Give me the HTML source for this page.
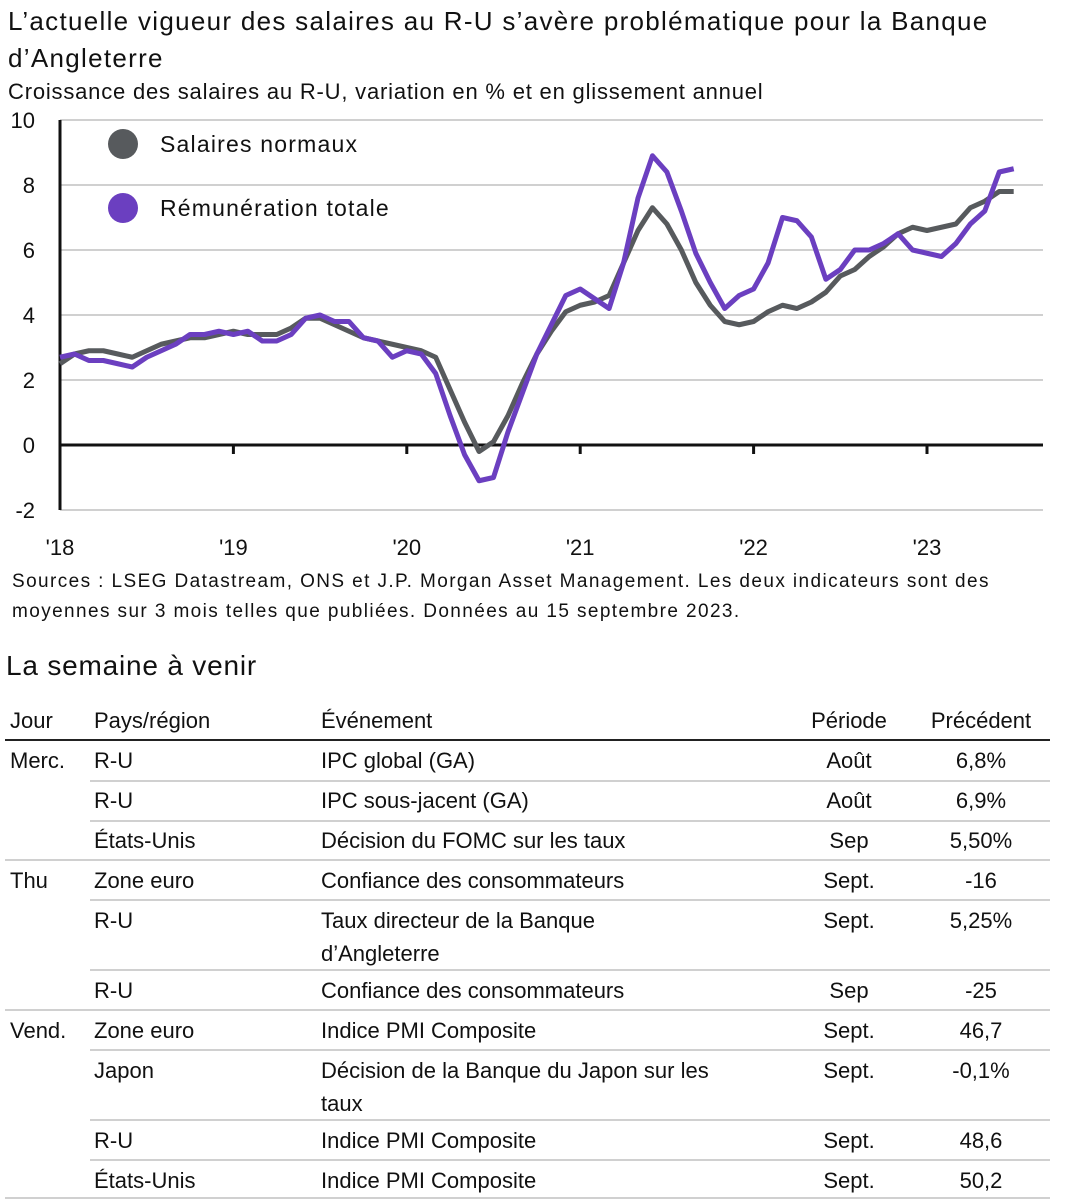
<!DOCTYPE html>
<html><head><meta charset="utf-8">
<style>
body{margin:0;width:1070px;height:1200px;background:#fff;font-family:"Liberation Sans",sans-serif;color:#111;position:relative;overflow:hidden}
.t{position:absolute;white-space:nowrap}
.c{position:absolute;white-space:nowrap;font-size:22px;line-height:33px}
.hl{position:absolute;height:2px;background:#d0d0d0}
</style></head><body>
<div class="t" style="left:8px;top:3px;font-size:26px;letter-spacing:1.3px;line-height:37px">L’actuelle vigueur des salaires au R-U s’avère problématique pour la Banque<br>d’Angleterre</div>
<div class="t" style="left:8px;top:79px;font-size:22px;letter-spacing:0.8px">Croissance des salaires au R-U, variation en % et en glissement annuel</div>
<svg id="chart" width="1070" height="570" style="position:absolute;left:0;top:0" font-family="Liberation Sans, sans-serif"></svg>
<div class="t" style="left:12px;top:567px;font-size:19px;letter-spacing:1.4px;line-height:30px">Sources : LSEG Datastream, ONS et J.P. Morgan Asset Management. Les deux indicateurs sont des<br>moyennes sur 3 mois telles que publiées. Données au 15 septembre 2023.</div>
<div class="t" style="left:6px;top:650px;font-size:28px;letter-spacing:0.8px">La semaine à venir</div>
<div id="tbl"></div>
<script>
const categoriesStart = 2018;
const yTicks = [10,8,6,4,2,0,-2];
const xTickLabels = ["'18","'19","'20","'21","'22","'23"];
const regularPay = [2.5,2.8,2.9,2.9,2.8,2.7,2.9,3.1,3.2,3.3,3.3,3.4,
3.5,3.4,3.4,3.4,3.6,3.9,3.9,3.7,3.5,3.3,3.2,3.1,
3.0,2.9,2.7,1.7,0.7,-0.2,0.1,0.9,1.9,2.8,3.5,4.1,
4.3,4.4,4.6,5.6,6.6,7.3,6.8,6.0,5.0,4.3,3.8,3.7,
3.8,4.1,4.3,4.2,4.4,4.7,5.2,5.4,5.8,6.1,6.5,6.7,
6.6,6.7,6.8,7.3,7.5,7.8,7.8];
const totalPay = [2.7,2.8,2.6,2.6,2.5,2.4,2.7,2.9,3.1,3.4,3.4,3.5,
3.4,3.5,3.2,3.2,3.4,3.9,4.0,3.8,3.8,3.3,3.2,2.7,
2.9,2.8,2.2,0.9,-0.3,-1.1,-1.0,0.4,1.6,2.8,3.7,4.6,
4.8,4.5,4.2,5.6,7.6,8.9,8.4,7.2,5.9,5.0,4.2,4.6,
4.8,5.6,7.0,6.9,6.4,5.1,5.4,6.0,6.0,6.2,6.5,6.0,
5.9,5.8,6.2,6.8,7.2,8.4,8.5];
const NS="http://www.w3.org/2000/svg";
const svg=document.getElementById('chart');
const X0=60, X1=1043, YEARPX=173.4;
const xs=m=>X0+m*YEARPX/12;
const ys=v=>445-v*32.5;
function el(t,a,p){const e=document.createElementNS(NS,t);for(const k in a)e.setAttribute(k,a[k]);(p||svg).appendChild(e);return e;}
yTicks.forEach(v=>{
  if(v!==0){const g=el('line',{x1:X0,x2:X1,y1:ys(v),y2:ys(v),stroke:'#d0d0d0','stroke-width':2});
  
  }
  const t=el('text',{x:35,y:ys(v)+8,'font-size':22,'text-anchor':'end',fill:'#111'});t.textContent=v;
  
  
});
const ax=el('line',{x1:X0,x2:X1,y1:ys(0),y2:ys(0),stroke:'#111','stroke-width':3});


const ay=el('line',{x1:X0,x2:X0,y1:ys(10),y2:ys(-2),stroke:'#111','stroke-width':3});


xTickLabels.forEach((l,i)=>{
  const x=xs(i*12);
  if(i>0){const tk=el('line',{x1:x,x2:x,y1:ys(0),y2:ys(0)+9,stroke:'#111','stroke-width':3});
  
  }
  const t=el('text',{x:x,y:555,'font-size':22,'text-anchor':'middle',fill:'#111'});t.textContent=l;
  
  
});
function line(d,c,n){const p=el('polyline',{points:d.map((v,i)=>xs(i)+','+ys(v)).join(' '),fill:'none',stroke:c,'stroke-width':5,'stroke-linejoin':'round'});

}
line(regularPay,'#575a5d','regular-pay-line');
line(totalPay,'#6b3fc0','total-pay-line');
[['Salaires normaux','#575a5d',144],['Rémunération totale','#6b3fc0',208]].forEach(([l,c,y],i)=>{
  const ci=el('circle',{cx:123,cy:y,r:15,fill:c});
  
  
  const t=el('text',{x:160,y:y+8,'font-size':23,'letter-spacing':1.2,fill:'#111'});t.textContent=l;
  
  
});
// table
const rows=[
["Jour","Pays/région","Événement","Période","Précédent",721],
["Merc.","R-U","IPC global (GA)","Août","6,8%",761],
["","R-U","IPC sous-jacent (GA)","Août","6,9%",801],
["","États-Unis","Décision du FOMC sur les taux","Sep","5,50%",841],
["Thu","Zone euro","Confiance des consommateurs","Sept.","-16",881],
["","R-U","Taux directeur de la Banque<br>d’Angleterre","Sept.","5,25%",921],
["","R-U","Confiance des consommateurs","Sep","-25",991],
["Vend.","Zone euro","Indice PMI Composite","Sept.","46,7",1031],
["","Japon","Décision de la Banque du Japon sur les<br>taux","Sept.","-0,1%",1071],
["","R-U","Indice PMI Composite","Sept.","48,6",1141],
["","États-Unis","Indice PMI Composite","Sept.","50,2",1181]];
const tbl=document.getElementById('tbl');
let h='';
rows.forEach((r,i)=>{
  const top=r[5]-17;
  h+=`<div class="c" style="left:10px;top:${top}px">${r[0]}</div>`;
  h+=`<div class="c" style="left:94px;top:${top}px">${r[1]}</div>`;
  h+=`<div class="c" style="left:321px;top:${top}px">${r[2]}</div>`;
  h+=`<div class="c" style="left:799px;width:100px;text-align:center;top:${top}px">${r[3]}</div>`;
  h+=`<div class="c" style="left:921px;width:120px;text-align:center;top:${top}px">${r[4]}</div>`;
});
h+=`<div class="hl" style="left:5px;width:1045px;top:739px;background:#222"></div>`;
[[780,90],[820,90],[859,5],[899,90],[969,90],[1009,5],[1049,90],[1119,90],[1159,90],[1197,5]].forEach(([y,x])=>{
  h+=`<div class="hl" style="left:${x}px;width:${1050-x}px;top:${y}px"></div>`;
});
tbl.innerHTML=h;
</script>
</body></html>
